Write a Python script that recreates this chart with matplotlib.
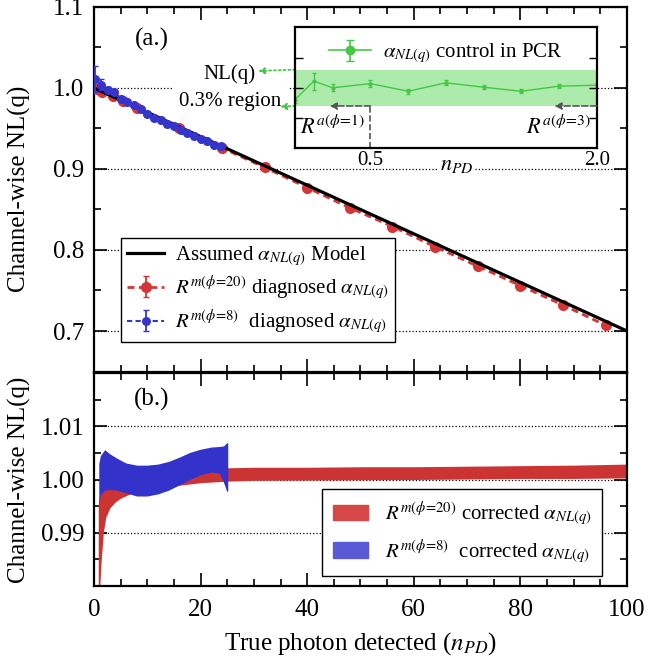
import matplotlib
matplotlib.use("Agg")
import matplotlib.pyplot as plt
import numpy as np
from matplotlib.ticker import MultipleLocator, FixedLocator, FormatStrFormatter
from matplotlib.patches import Patch

plt.rcParams['font.family'] = ['Liberation Serif', 'DejaVu Serif']
plt.rcParams['mathtext.fontset'] = 'stix'

# ---------------- data ----------------
# assumed non-linearity model
model_x = [0, 100]
model_y = [1.0, 0.70]

# diagnosed alpha, phi = 20
red_x = [0.5, 1.5, 3.5, 5.5, 8, 16, 24, 32, 40, 48, 56, 64, 72, 80, 88, 96]
red_y = [0.999, 0.995, 0.990, 0.984, 0.975, 0.950, 0.926, 0.902, 0.877,
         0.852, 0.829, 0.804, 0.780, 0.756, 0.732, 0.707]
red_err = [0.004, 0.003, 0.003, 0.003, 0.003, 0.003, 0.003, 0.003, 0.003,
           0.003, 0.003, 0.003, 0.003, 0.003, 0.003, 0.003]

# diagnosed alpha, phi = 8
blue_x = [0.1, 1.4, 2.6, 3.75, 5.0, 6.25, 7.5, 8.75, 10.0, 11.25, 12.5, 13.75,
          15.0, 16.25, 17.5, 18.75, 20.0, 21.25, 22.5, 23.75]
blue_y = [1.011, 1.004, 0.9975, 0.995, 0.987, 0.983, 0.979, 0.974, 0.968,
          0.963, 0.960, 0.956, 0.953, 0.948, 0.945, 0.941, 0.937, 0.934,
          0.930, 0.928]
blue_err = [0.016, 0.007, 0.004, 0.003, 0.003, 0.003, 0.003, 0.003, 0.003,
            0.003, 0.003, 0.003, 0.003, 0.003, 0.003, 0.003, 0.003, 0.003,
            0.003, 0.003]

# alpha control in the photon-counting region (inset)
pcr_x = [0.0, 0.125, 0.25, 0.5, 0.75, 1.0, 1.25, 1.5, 1.75, 2.0]
pcr_y = [0.99805, 1.0011, 1.0000, 1.0007, 0.99943, 1.00083, 1.0001,
         0.99943, 1.00027, 1.00043]
pcr_err = [0.0005, 0.0014, 0.0006, 0.0006, 0.0004, 0.0004, 0.0003,
           0.0003, 0.0003, 0.0003]
pcr_band = [0.997, 1.003]

# corrected alpha bands
red_band_x = [0.8, 1.0, 1.3, 1.75, 2.2, 3.0, 4.0, 5.0, 7.0, 10.0, 15.0, 20.0,
              25.0, 30.0, 40.0, 50.0, 60.0, 70.0, 80.0, 90.0, 100.0]
red_band_lo = [0.975, 0.978, 0.984, 0.990, 0.9929, 0.9947, 0.9958, 0.9965,
               0.9974, 0.9981, 0.9988, 0.9994, 0.9997, 0.99985, 0.9999,
               0.99995, 1.0000, 1.0001, 1.0002, 1.0002, 1.0003]
red_band_hi = [0.9955, 0.9968, 0.9978, 0.9983, 0.9985, 0.9987, 0.9989,
               0.9992, 0.9997, 1.0004, 1.0012, 1.0018, 1.0022, 1.0023,
               1.0023, 1.0024, 1.0024, 1.0025, 1.0026, 1.0027, 1.0029]

blue_band_x = [0.9, 1.2, 2.0, 3.0, 4.3, 6.0, 8.0, 10.0, 12.0, 14.0, 16.0,
               18.0, 20.0, 22.0, 23.5, 24.3, 24.9, 25.1]
blue_band_hi = [1.003, 1.0045, 1.0056, 1.0048, 1.0040, 1.0031, 1.0027,
                1.0027, 1.0029, 1.0034, 1.0042, 1.0051, 1.0057, 1.0061,
                1.0062, 1.0063, 1.0069, 1.0069]
blue_band_lo = [0.9954, 0.9972, 0.9980, 0.9981, 0.9980, 0.9975, 0.9969,
                0.9969, 0.9973, 0.9980, 0.9990, 1.0000, 1.0009, 1.0014,
                1.0012, 0.9995, 0.9978, 0.9978]

RED = '#d63535'
BLUE = '#3535cc'
GREEN = '#44c844'

# ---------------- figure ----------------
fig = plt.figure(figsize=(6.54, 6.58), dpi=100)
ax1 = fig.add_axes([0.1437, 0.4354, 0.815, 0.5540])
ax2 = fig.add_axes([0.1437, 0.1094, 0.815, 0.3237])


def style_axes(ax):
    ax.tick_params(which='both', direction='in', top=True, right=True,
                   labelsize=18, width=1.2)
    ax.tick_params(which='major', length=9.5, pad=7)
    ax.tick_params(axis='x', which='major', pad=9)
    ax.tick_params(which='minor', length=5)
    for s in ax.spines.values():
        s.set_linewidth(1.6)
    ax.xaxis.set_major_locator(MultipleLocator(20))
    ax.xaxis.set_minor_locator(MultipleLocator(5))
    ax.grid(axis='y', which='major', linestyle=':', color='k', linewidth=0.9)
    ax.set_axisbelow(True)


# ---- panel (a) ----
style_axes(ax1)
ax1.set_xlim(0, 100)
ax1.set_ylim(0.65, 1.1)
ax1.yaxis.set_major_locator(MultipleLocator(0.1))
ax1.yaxis.set_minor_locator(MultipleLocator(0.05))
ax1.yaxis.set_major_formatter(FormatStrFormatter('%.1f'))
ax1.tick_params(labelbottom=False)

ax1.fill_between([0.1, 2.1], pcr_band[0], pcr_band[1], color='#33cc33',
                 lw=0, zorder=2.5)
ax1.plot(model_x, model_y, color='k', lw=2.3, zorder=3,
         label=r'Assumed $\alpha_{NL(q)}$ Model')
ax1.errorbar(red_x, red_y, yerr=red_err, fmt='o', linestyle='--',
             dashes=(2.5, 1.6), color=RED, ms=7, lw=2.0, elinewidth=1.3,
             capsize=2.5, zorder=2.8,
             label=r'$R^{m(\phi\!=\!20)}$ diagnosed $\alpha_{NL(q)}$')
ax1.errorbar(blue_x, blue_y, yerr=blue_err, fmt='o', linestyle='--',
             dashes=(2.5, 1.6), color=BLUE, ms=5.5, lw=1.5, elinewidth=1.3,
             capsize=2.5, zorder=3.2,
             label=r'$R^{m(\phi\!=\!8)}$  diagnosed $\alpha_{NL(q)}$')

leg1 = ax1.legend(loc='lower left', bbox_to_anchor=(0.05, 0.08),
                  borderaxespad=0, fontsize=15, handlelength=1.8,
                  handletextpad=0.5, labelspacing=0.25, borderpad=0.3,
                  fancybox=False, framealpha=1, edgecolor='k')
leg1.get_frame().set_linewidth(1.0)
leg1.set_zorder(10)

ax1.text(10.9, 1.06, '(a.)', fontsize=18, ha='center', va='center')
ax1.text(25.5, 1.0, 'NL(q)\n0.3% region', fontsize=15, ha='center',
         va='center', linespacing=1.55, zorder=5,
         bbox=dict(fc='white', ec='none', pad=5))
ax1.set_ylabel('Channel-wise NL(q)', fontsize=18)
ax1.yaxis.set_label_coords(-0.118, 0.5)

# ---- inset ----
axins = fig.add_axes([0.4511, 0.7746, 0.4613, 0.1839])
axins.set_xlim(0, 2.0)
axins.set_ylim(0.99, 1.01)
for s in axins.spines.values():
    s.set_linewidth(1.6)
axins.axhspan(pcr_band[0], pcr_band[1], color=(0.68, 0.92, 0.68), lw=0)
axins.errorbar(pcr_x, pcr_y, yerr=pcr_err, color=GREEN, lw=1.0, marker='o',
               ms=2, elinewidth=1.0, capsize=1.5)
proxy = axins.errorbar([np.nan], [np.nan], yerr=[0.001], color=GREEN, lw=1.2,
                       marker='o', ms=6, elinewidth=1.2, capsize=3,
                       label=r'$\alpha_{NL(q)}$ control in PCR')
axins.legend(loc='upper left', bbox_to_anchor=(0.05, 1.04), frameon=False,
             fontsize=15, handlelength=2.0, handletextpad=0.6)
axins.yaxis.set_major_locator(FixedLocator([0.995, 1.0, 1.005]))
axins.tick_params(axis='y', which='both', direction='in', left=True,
                  right=True, labelleft=False, length=6, width=1.0)
axins.xaxis.set_major_locator(FixedLocator([0.5, 2.0]))
axins.xaxis.set_major_formatter(FormatStrFormatter('%.1f'))
axins.tick_params(axis='x', length=0, pad=2, labelsize=15)
axins.set_xlabel(r'$n_{PD}$', fontsize=16,
                 bbox=dict(fc='white', ec='none', pad=1))
axins.xaxis.set_label_coords(0.537, -0.06)

GREY = '#555555'
axins.plot([0.5, 0.5], [0.99, pcr_band[0]], ls='--', color=GREY, lw=1.2)
axins.annotate('', xy=(0.23, pcr_band[0]), xytext=(0.5, pcr_band[0]),
               arrowprops=dict(arrowstyle='-|>', ls='--', color=GREY, lw=1.2,
                               mutation_scale=10, shrinkA=0, shrinkB=0))
axins.annotate('', xy=(1.72, pcr_band[0]), xytext=(2.0, pcr_band[0]),
               arrowprops=dict(arrowstyle='-|>', ls='--', color=GREY, lw=1.2,
                               mutation_scale=10, shrinkA=0, shrinkB=0))
axins.text(0.03, 0.9935, r'$R^{a(\phi\!=\!1)}$', fontsize=16, ha='left',
           va='center')
axins.text(1.96, 0.9935, r'$R^{a(\phi\!=\!3)}$', fontsize=16, ha='right',
           va='center')

# green pointers from the inset band edges to the label
ax1.annotate('', xy=(30.8, 1.021), xycoords='data',
             xytext=(0.0, pcr_band[1]), textcoords=axins.transData,
             arrowprops=dict(arrowstyle='-|>', ls=':', color=GREEN, lw=1.3,
                             mutation_scale=9, shrinkA=0, shrinkB=0),
             zorder=6)
ax1.annotate('', xy=(34.9, 0.977), xycoords='data',
             xytext=(0.0, pcr_band[0]), textcoords=axins.transData,
             arrowprops=dict(arrowstyle='-|>', ls=':', color=GREEN, lw=1.3,
                             mutation_scale=9, shrinkA=0, shrinkB=0),
             zorder=6)

# ---- panel (b) ----
style_axes(ax2)
ax2.set_xlim(0, 100)
ax2.set_ylim(0.98, 1.02)
ax2.yaxis.set_major_locator(FixedLocator([0.99, 1.00, 1.01]))
ax2.yaxis.set_minor_locator(FixedLocator([0.985, 0.995, 1.005, 1.015]))
ax2.yaxis.set_major_formatter(FormatStrFormatter('%.2f'))

ax2.fill_between(red_band_x, red_band_lo, red_band_hi, color='#cc3333',
                 lw=0, zorder=2)
ax2.fill_between(blue_band_x, blue_band_lo, blue_band_hi, color='#3333cc',
                 lw=0, zorder=3)

handles = [Patch(color='#d64848'), Patch(color='#5a5ad6')]
labels = [r'$R^{m(\phi\!=\!20)}$ corrected $\alpha_{NL(q)}$',
          r'$R^{m(\phi\!=\!8)}$  corrected $\alpha_{NL(q)}$']
leg2 = ax2.legend(handles, labels, loc='lower left',
                  bbox_to_anchor=(0.428, 0.047), borderaxespad=0,
                  fontsize=15, handlelength=1.7, handleheight=0.75,
                  handletextpad=0.8, labelspacing=0.45, borderpad=0.5,
                  fancybox=False, framealpha=1, edgecolor='k')
leg2.get_frame().set_linewidth(1.0)

ax2.text(10.9, 1.015, '(b.)', fontsize=18, ha='center', va='center')
ax2.set_ylabel('Channel-wise NL(q)', fontsize=18)
ax2.yaxis.set_label_coords(-0.118, 0.5)
ax2.set_xlabel(r'True photon detected ($n_{PD}$)', fontsize=18, labelpad=7)

fig.savefig('out.png', dpi=100)
